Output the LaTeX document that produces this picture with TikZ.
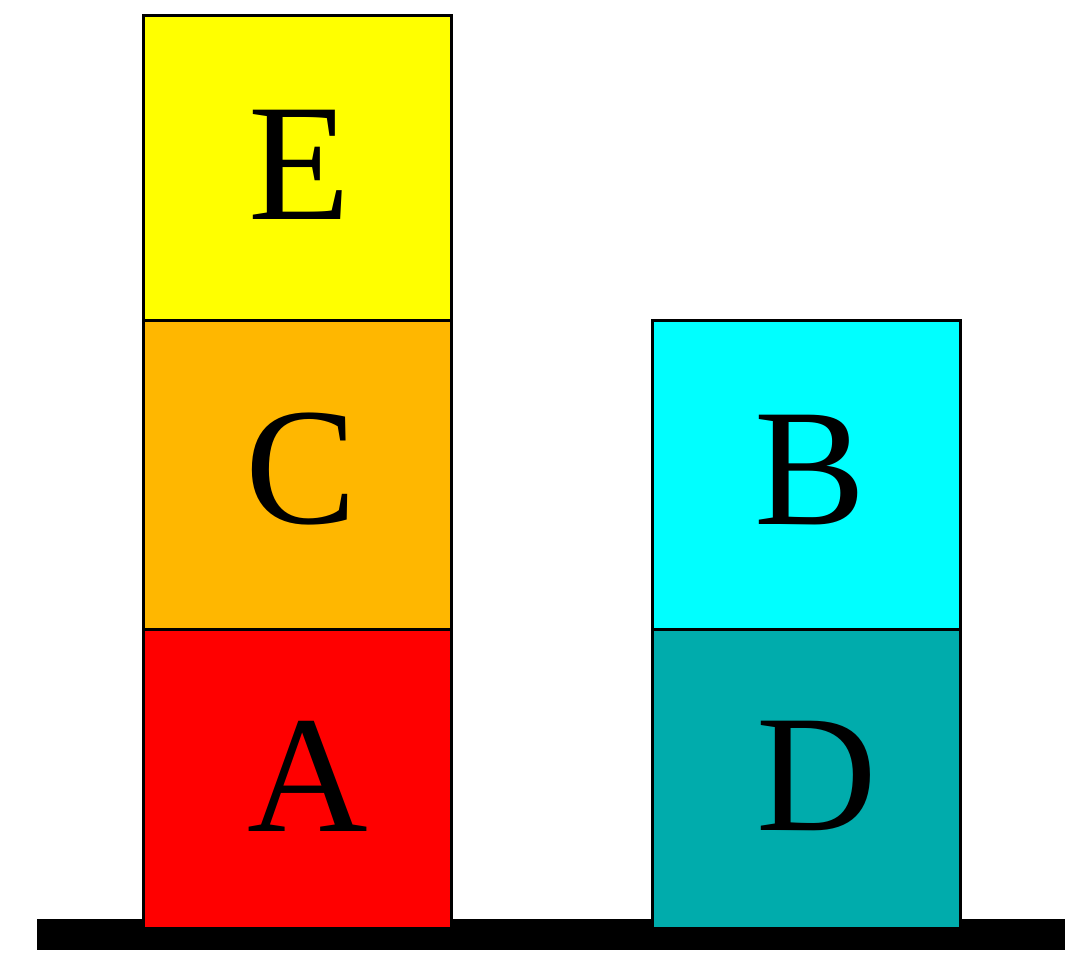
\documentclass[tikz,border=0pt]{standalone}
\usepackage{fontspec}
\setmainfont{Liberation Serif}
\definecolor{cOrange}{RGB}{255,183,0}
\definecolor{cTeal}{RGB}{0,172,172}
\definecolor{cCyan}{RGB}{0,255,255}
\definecolor{cYellow}{RGB}{255,255,0}
\definecolor{cRed}{RGB}{255,0,0}
\begin{document}
\begin{tikzpicture}[x=1pt,y=-1pt,
  block/.style={draw=black,line width=3pt,minimum width=308pt,inner sep=0pt},
  letter/.style={font=\fontsize{167}{167}\selectfont,text=black,inner sep=0pt}]
\useasboundingbox (0,0) rectangle (1065,955);
\fill[black] (37,919) rectangle (1065,950);
\node[block,fill=cRed,minimum height=299pt] (A) at (297,778.5) {};
\node[block,fill=cOrange,minimum height=309pt] (C) at (297,474.5) {};
\node[block,fill=cYellow,minimum height=304pt] (E) at (297,168) {};
\node[block,fill=cTeal,minimum height=299pt] (D) at (806.5,778.5) {};
\node[block,fill=cCyan,minimum height=309pt] (B) at (806.5,474.5) {};
\node[letter] (lA) at ([xshift=11pt,yshift=2pt]A.center) {A};
\node[letter] (lC) at ([xshift=4pt,yshift=5pt]C.center) {C};
\node[letter] (lE) at ([xshift=3pt,yshift=3pt]E.center) {E};
\node[letter] (lD) at ([xshift=10pt,yshift=3pt]D.center) {D};
\node[letter] (lB) at ([xshift=4pt,yshift=4pt]B.center) {B};
\end{tikzpicture}
\end{document}
